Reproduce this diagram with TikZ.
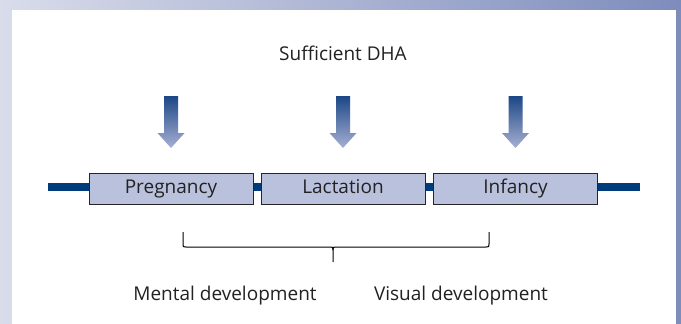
\documentclass[tikz,border=0pt]{standalone}
\usepackage{fontspec}
\setmainfont{Open Sans}
\usepackage{xcolor}
\definecolor{frameLeft}{HTML}{D9DCEA}
\definecolor{frameRight}{HTML}{7D8CBC}
\definecolor{stageFill}{HTML}{B9C1DD}
\definecolor{timeLine}{HTML}{003B7C}
\definecolor{arrowTop}{HTML}{1C4786}
\definecolor{arrowBottom}{HTML}{A6AFD3}
\definecolor{labelText}{HTML}{222222}

\tikzset{
  stage/.style={draw=black!85, line width=1pt, fill=stageFill, minimum width=164pt,
    minimum height=31pt, inner sep=0pt, text height=14pt, text depth=4pt,
    text=labelText, font=\fontsize{19}{22}\selectfont},
  caption/.style={text=labelText, text height=14pt, text depth=4pt,
    font=\fontsize{19}{22}\selectfont},
}

\begin{document}
\begin{tikzpicture}[x=1pt, y=-1pt]
  % frame and white panel
  \shade[left color=frameLeft, right color=frameRight] (0,0) rectangle (681,324);
  \fill[white] (12,10) rectangle (676,324);
  \useasboundingbox (0,0) rectangle (681,324);

  \node[caption] (dha) at (343,55) {Sufficient DHA};

  % time line behind the stages
  \coordinate (lineL) at (48,187);
  \coordinate (lineR) at (640,187);
  \draw[timeLine, line width=8pt] (lineL) -- (lineR);

  \node[stage] (preg) at (171,188.5) {Pregnancy};
  \node[stage] (lact) at (343,188.5) {Lactation};
  \node[stage] (inf) at (515.5,188.5) {Infancy};

  % DHA arrows
  \foreach \x in {171,343,515.5} {
    \shade[top color=arrowTop, bottom color=arrowBottom]
      (\x-7,96) -- (\x+7,96) -- (\x+7,133) -- (\x+13.5,133) -- (\x,148)
      -- (\x-13.5,133) -- (\x-7,133) -- cycle;
  }

  % brace
  \coordinate (braceL) at (183,232);
  \coordinate (braceR) at (489,232);
  \coordinate (braceM) at (333,262);
  \draw[black, line width=1pt] (braceL) -- (183,244) .. controls (183,247) .. (186,247)
    -- (330,247) .. controls (333,247) .. (333,250) -- (braceM);
  \draw[black, line width=1pt] (braceR) -- (489,244) .. controls (489,247) .. (486,247)
    -- (336,247) .. controls (333,247) .. (333,250);

  \node[caption] (mental) at (225,295) {Mental development};
  \node[caption] (visual) at (461,295) {Visual development};
\end{tikzpicture}
\end{document}
